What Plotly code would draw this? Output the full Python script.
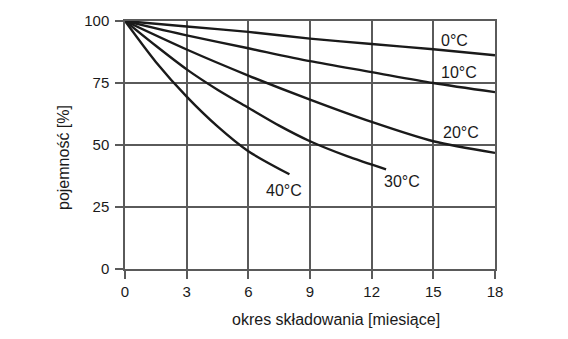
import plotly.graph_objects as go

# Storage time [months] and remaining capacity [%] for each temperature
x_0c = [0, 3, 6, 9, 12, 15, 18]
y_0c = [100, 97.8, 95.6, 92.9, 90.7, 88.6, 86.2]

x_10c = [0, 3, 6, 9, 12, 15, 18]
y_10c = [100, 94.2, 89, 83.8, 79.4, 75, 71.3]

x_20c = [0, 3, 6, 9, 12, 15, 18]
y_20c = [100, 88.5, 78.0, 68.3, 59.3, 51.5, 46.8]

x_30c = [0, 1.5, 3, 4.5, 6, 7.5, 9, 10.8, 12.7]
y_30c = [100, 90, 80.5, 72.3, 65, 57.8, 51.5, 45.5, 40.2]

x_40c = [0, 1.5, 3, 4.5, 6, 8]
y_40c = [100, 83.5, 69.5, 57.5, 47.5, 38.2]

series_labels = ["0°C", "10°C", "20°C", "30°C", "40°C"]
label_x = [16.05, 16.25, 16.37, 13.47, 7.73]
label_y = [92, 79.3, 55, 35.1, 31.7]

x_ticks = [0, 3, 6, 9, 12, 15, 18]
y_ticks = [0, 25, 50, 75, 100]

x_title = "okres składowania [miesiące]"
y_title = "pojemność [%]"

FONT = "Liberation Sans, Arial, Helvetica, sans-serif"
GRID = "#5a5a5a"
INK = "#1a1a1a"

fig = go.Figure()
for xs, ys in [(x_0c, y_0c), (x_10c, y_10c), (x_20c, y_20c), (x_30c, y_30c), (x_40c, y_40c)]:
    fig.add_trace(go.Scatter(x=xs, y=ys, mode="lines",
                             line=dict(color=INK, width=2.4, shape="spline", smoothing=0.8),
                             showlegend=False, hoverinfo="skip"))

for t, lx, ly in zip(series_labels, label_x, label_y):
    fig.add_annotation(x=lx, y=ly, text=t, showarrow=False,
                       font=dict(family=FONT, size=16, color=INK),
                       xanchor="center", yanchor="middle")

# axis titles (placed as in the reference, slightly off-centre)
fig.add_annotation(xref="paper", yref="paper", x=0.5716, y=-0.2056, text=x_title,
                   showarrow=False, xanchor="center", yanchor="middle",
                   font=dict(family=FONT, size=16, color=INK))
fig.add_annotation(xref="paper", yref="paper", x=-0.1676, y=0.4516, text=y_title,
                   showarrow=False, xanchor="center", yanchor="middle", textangle=-90,
                   font=dict(family=FONT, size=16, color=INK))

fig.update_layout(
    width=568, height=339,
    margin=dict(l=125, r=73, t=21, b=70),
    paper_bgcolor="white", plot_bgcolor="white",
    font=dict(family=FONT, size=15, color=INK),
    xaxis=dict(range=[0, 18], tickvals=x_ticks, ticks="outside", ticklen=8,
               tickcolor=GRID, tickwidth=1.5,
               showgrid=True, gridcolor=GRID, gridwidth=1.5,
               showline=True, linecolor=GRID, linewidth=1.5, mirror=True,
               zeroline=False, tickfont=dict(size=15)),
    yaxis=dict(range=[0, 100], tickvals=y_ticks, ticks="outside", ticklen=8,
               tickcolor=GRID, tickwidth=1.5, ticklabelstandoff=3,
               showgrid=True, gridcolor=GRID, gridwidth=1.5,
               showline=True, linecolor=GRID, linewidth=1.5, mirror=True,
               zeroline=False, tickfont=dict(size=15)),
)

fig.write_html("out.html")
